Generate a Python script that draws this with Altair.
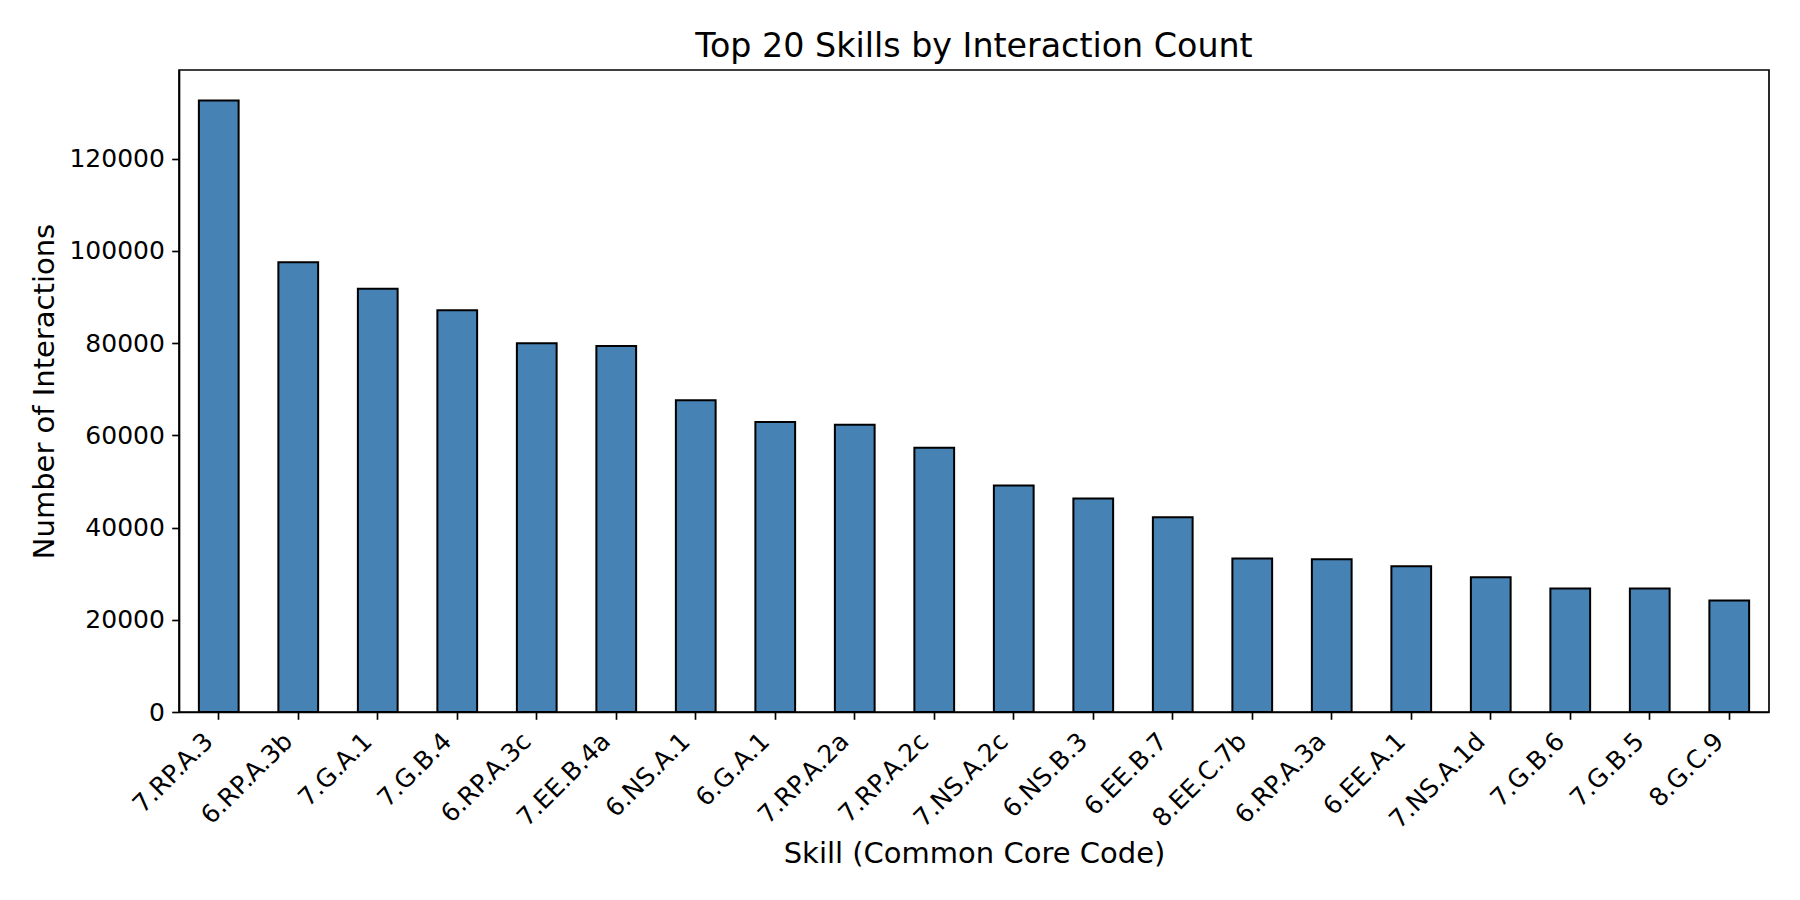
import altair as alt
import pandas as pd

skills = ["7.RP.A.3", "6.RP.A.3b", "7.G.A.1", "7.G.B.4", "6.RP.A.3c", "7.EE.B.4a",
          "6.NS.A.1", "6.G.A.1", "7.RP.A.2a", "7.RP.A.2c", "7.NS.A.2c", "6.NS.B.3",
          "6.EE.B.7", "8.EE.C.7b", "6.RP.A.3a", "6.EE.A.1", "7.NS.A.1d", "7.G.B.6",
          "7.G.B.5", "8.G.C.9"]
counts = [132600, 97500, 91750, 87100, 79950, 79350, 67600, 62900, 62300, 57300,
          49100, 46300, 42200, 33300, 33100, 31600, 29200, 26800, 26800, 24200]
y_ticks = [0, 20000, 40000, 60000, 80000, 100000, 120000]
y_max = 139200

df = pd.DataFrame({"skill": skills, "count": counts})

FONT = "DejaVu Sans"

chart = alt.Chart(df).mark_bar(
    color="#4682b4", stroke="black", strokeWidth=2
).encode(
    x=alt.X(
        "skill:N", sort=skills,
        scale=alt.Scale(paddingInner=0.5, paddingOuter=0.25),
        axis=alt.Axis(
            title="Skill (Common Core Code)",
            labelAngle=-45, labelAlign="right", labelBaseline="middle",
            labelFontSize=25, labelFont=FONT, labelColor="black",
            labelPadding=17.5, labelOffset=-10, labelLimit=0, labelOverlap=False,
            tickSize=7.3, tickWidth=1.67, tickColor="black",
            domainColor="black", domainWidth=1.67,
            titleFontSize=29, titleFont=FONT, titleFontWeight="normal", titleColor="black",
            titleX=795, titleY=150.5, titleBaseline="alphabetic", titleAlign="center",
        ),
    ),
    y=alt.Y(
        "count:Q",
        scale=alt.Scale(domain=[0, y_max], nice=False, zero=True),
        axis=alt.Axis(
            title="Number of Interactions", values=y_ticks, format="d", grid=False,
            labelFontSize=25, labelFont=FONT, labelColor="black", labelPadding=7.3,
            tickSize=7.3, tickWidth=1.67, tickColor="black",
            domainColor="black", domainWidth=1.67,
            titleFontSize=29, titleFont=FONT, titleFontWeight="normal", titleColor="black",
            titleAngle=270, titleX=-126, titleY=321, titleBaseline="alphabetic",
            titleAlign="center",
        ),
    ),
).properties(
    width=1590, height=642,
    title=alt.TitleParams(
        "Top 20 Skills by Interaction Count", fontSize=33.3, fontWeight="normal",
        font=FONT, color="black", offset=6, anchor="middle",
    ),
    autosize=alt.AutoSizeParams(type="none"),
    padding={"left": 171, "top": 62, "right": 23, "bottom": 180},
    background="white",
).configure_view(stroke="black", strokeWidth=1.67)

chart.save("out.html", embed_options={"renderer": "svg", "actions": False})
